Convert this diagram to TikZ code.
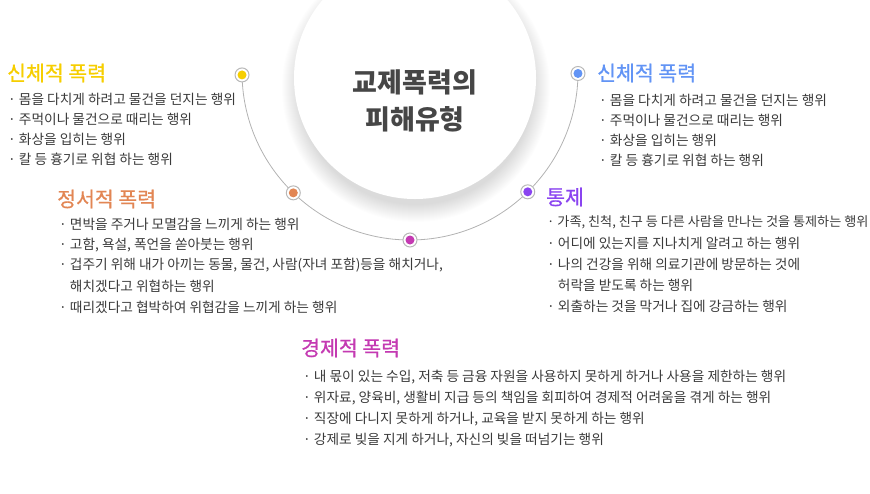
\documentclass[tikz,border=0pt]{standalone}
\usepackage{fontspec}
\setmainfont{Noto Sans CJK KR}
\newfontfamily\headfont{Noto Sans CJK KR}[FakeBold=0.6]
\usetikzlibrary{positioning}

\definecolor{txtgray}{RGB}{58,58,58}
\definecolor{ttlgray}{RGB}{70,70,70}
\definecolor{yel}{RGB}{246,206,0}
\definecolor{blu}{RGB}{98,148,245}
\definecolor{ora}{RGB}{226,134,84}
\definecolor{pur}{RGB}{138,68,240}
\definecolor{mag}{RGB}{196,58,178}

\begin{document}
\begin{tikzpicture}[x=1pt,y=-1pt,
  head/.style={anchor=west, inner sep=0pt, font=\headfont\fontsize{20.5}{22}\selectfont},
  item/.style={anchor=west, inner sep=0pt, text=txtgray, font=\fontsize{13.7}{15}\selectfont},
  ring/.style={circle, draw=black!28, line width=1pt, fill=white, minimum size=14pt, inner sep=0pt,
    path picture={\fill[#1] (path picture bounding box.center) circle (4.5pt);}}]
\useasboundingbox (0,0) rectangle (870,493);

% soft shadow and the big circle
\foreach \r in {1,...,18}
  \fill[black, opacity=0.006] (416,88) circle (116+\r);
\fill[white] (415,78) circle (121);
\node[font=\fontsize{27}{37}\selectfont\bfseries, text=ttlgray, align=center] (title) at (415,101) {교제폭력의\\피해유형};

% arc with the five dots
\coordinate (c) at (410,72);
\draw[black!30, line width=0.8pt] (c) ++(0:168) arc[start angle=0, end angle=180, radius=168];
\foreach \a/\c/\n in {179/yel/dy, 0.5/blu/db, 134/ora/do, 45.5/pur/dp, 90/mag/dm}
  \node[ring=\c] (\n) at ([shift={(\a:168)}]c) {};

% 신체적 폭력 (left)
\node[head, text=yel] (yhead) at (7,73) {신체적 폭력};
\foreach \t [count=\i] in {몸을 다치게 하려고 물건을 던지는 행위, 주먹이나 물건으로 때리는 행위,
    화상을 입히는 행위, 칼 등 흉기로 위협 하는 행위}
  \node[item] (yitem\i) at (8,79+20*\i) {· \t};

% 신체적 폭력 (right)
\node[head, text=blu] (bhead) at (597,73) {신체적 폭력};
\foreach \t [count=\i] in {몸을 다치게 하려고 물건을 던지는 행위, 주먹이나 물건으로 때리는 행위,
    화상을 입히는 행위, 칼 등 흉기로 위협 하는 행위}
  \node[item] (bitem\i) at (599,80+20*\i) {· \t};

% 정서적 폭력
\node[head, text=ora] (ohead) at (57,199) {정서적 폭력};
\foreach \t [count=\i] in {{· 면박을 주거나 모멸감을 느끼게 하는 행위},
    {· 고함, 욕설, 폭언을 쏟아붓는 행위},
    {· 겁주기 위해 내가 아끼는 동물, 물건, 사람(자녀 포함)등을 해치거나,},
    {\hphantom{· }해치겠다고 위협하는 행위},
    {· 때리겠다고 협박하여 위협감을 느끼게 하는 행위}}
  \node[item] (oitem\i) at (59,203.5+20.7*\i) {\t};

% 통제
\node[head, text=pur] (phead) at (546,197) {통제};
\foreach \t [count=\i] in {{\fontsize{13.1}{15}\selectfont · 가족, 친척, 친구 등 다른 사람을 만나는 것을 통제하는 행위},
    {· 어디에 있는지를 지나치게 알려고 하는 행위},
    {· 나의 건강을 위해 의료기관에 방문하는 것에},
    {\hphantom{· }허락을 받도록 하는 행위},
    {· 외출하는 것을 막거나 집에 강금하는 행위}}
  \node[item] (pitem\i) at (547,201+21*\i) {\t};

% 경제적 폭력
\node[head, text=mag] (mhead) at (301,348) {경제적 폭력};
\foreach \t [count=\i] in {{· 내 몫이 있는 수입, 저축 등 금융 자원을 사용하지 못하게 하거나 사용을 제한하는 행위},
    {· 위자료, 양육비, 생활비 지급 등의 책임을 회피하여 경제적 어려움을 겪게 하는 행위},
    {· 직장에 다니지 못하게 하거나, 교육을 받지 못하게 하는 행위},
    {· 강제로 빚을 지게 하거나, 자신의 빚을 떠넘기는 행위}}
  \node[item] (mitem\i) at (303,356+21*\i) {\t};
\end{tikzpicture}
\end{document}
